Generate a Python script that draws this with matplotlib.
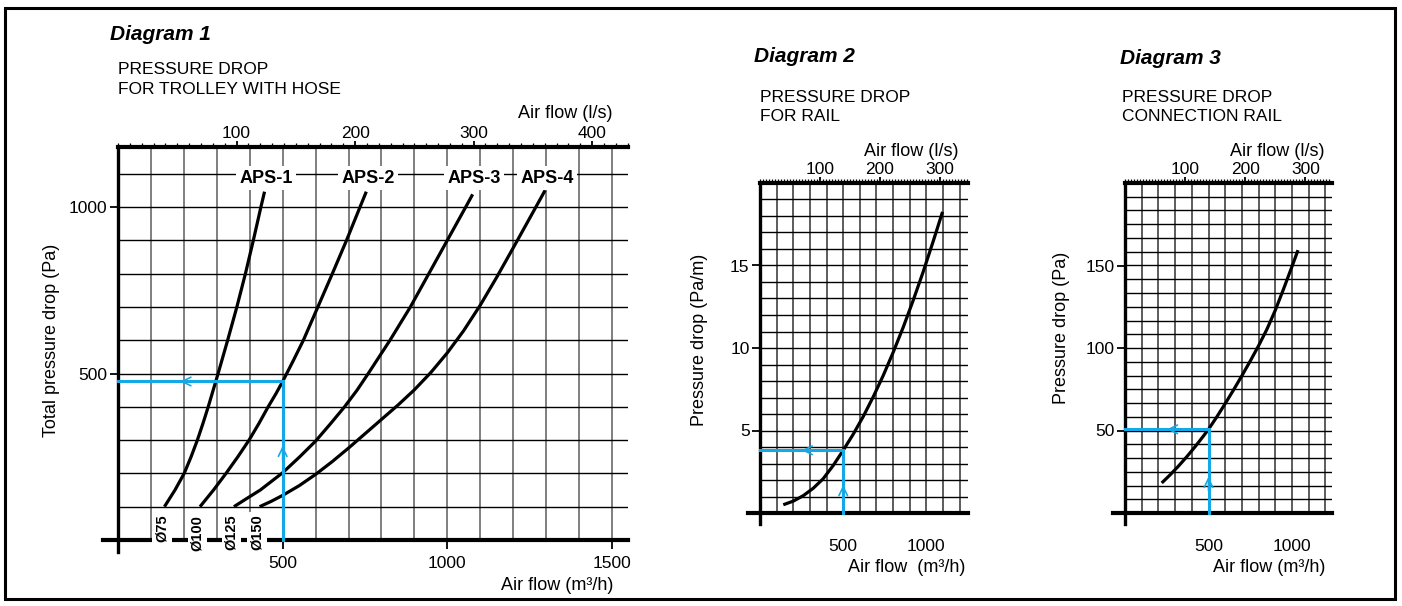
import numpy as np
import matplotlib
matplotlib.use("Agg")
import matplotlib.pyplot as plt
from matplotlib.ticker import FixedLocator
from matplotlib.patches import Rectangle

plt.rcParams['font.family'] = ['Liberation Sans', 'DejaVu Sans']

# ---------------- data ----------------
# Diagram 1: trolley with hose, air flow (m3/h) vs total pressure drop (Pa)
aps1_flow = [141, 173, 201, 222, 241, 258, 274, 289, 304, 333, 361, 387, 411, 434, 445]
aps1_drop = [100, 150, 200, 250, 300, 350, 400, 450, 500, 600, 700, 800, 900, 1000, 1046]
aps2_flow = [249, 290, 328, 364, 398, 428, 456, 480, 500, 533, 563, 607, 651, 694, 735, 754]
aps2_drop = [100, 150, 200, 250, 300, 350, 400, 440, 476, 540, 600, 700, 800, 900, 1000, 1046]
aps3_flow = [352, 390, 432, 500, 552, 600, 646, 688, 726, 760, 826, 888, 944, 1000, 1056, 1077]
aps3_drop = [100, 124, 150, 202, 250, 297, 350, 400, 450, 500, 600, 700, 800, 900, 1000, 1038]
aps4_flow = [430, 465, 500, 550, 600, 650, 700, 750, 800, 850, 900, 950, 1000, 1050, 1100,
             1150, 1200, 1250, 1297]
aps4_drop = [100, 116, 134, 163, 197, 235, 276, 319, 362, 405, 451, 503, 562, 629, 705,
             789, 877, 966, 1050]
series_names = ['APS-1', 'APS-2', 'APS-3', 'APS-4']
hose_names = ['Ø75', 'Ø100', 'Ø125', 'Ø150']

# Diagram 2: rail, air flow (m3/h) vs pressure drop (Pa/m)
rail_flow = [140, 200, 260, 320, 380, 440, 500, 560, 620, 680, 740, 800, 860, 920, 980,
             1040, 1097]
rail_drop = [0.5, 0.72, 1.05, 1.5, 2.08, 2.88, 3.8, 4.77, 5.84, 7.03, 8.32, 9.73, 11.24,
             12.87, 14.6, 16.44, 18.25]

# Diagram 3: connection rail, air flow (m3/h) vs pressure drop (Pa)
conn_flow = [220, 270, 320, 370, 420, 470, 500, 550, 600, 650, 700, 750, 800, 850, 900,
             950, 1000, 1036]
conn_drop = [18.2, 23.1, 28.4, 34.1, 40.2, 46.7, 50.7, 58.3, 66.3, 74.6, 83.2, 92.1, 101.4,
             111.4, 122.9, 135.9, 149.4, 159.3]

# worked examples (cyan reading lines)
read_flow = [500, 500, 500]
read_drop = [476, 3.8, 50.7]

# tick values
d1_xticks = [500, 1000, 1500]
d1_yticks = [500, 1000]
d1_lps_ticks = [100, 200, 300, 400]
d2_xticks = [500, 1000]
d2_yticks = [5, 10, 15]
d3_xticks = [500, 1000]
d3_yticks = [50, 100, 150]
d23_lps_ticks = [100, 200, 300]

# ---------------- figure ----------------
W, H = 1402, 606
fig = plt.figure(figsize=(W / 100, H / 100), dpi=100)
fig.patch.set_facecolor('white')

CYAN = '#14a9e6'
VGRID = '#5c5c5c'


def px_axes(xlim, ylim, x0px, sx, y0px, sy):
    """Axes placed so that data x=0 sits at pixel x0px and y=0 at pixel y0px."""
    left = x0px + xlim[0] * sx
    right = x0px + xlim[1] * sx
    bottom = y0px - ylim[0] * sy
    top = y0px - ylim[1] * sy
    ax = fig.add_axes([left / W, 1 - bottom / H, (right - left) / W, (bottom - top) / H])
    ax.set_xlim(*xlim)
    ax.set_ylim(*ylim)
    ax.set_facecolor('none')
    return ax


def style_axes(ax, xmax, ymax, vstep, hstep, xticks, yticks, lps_major, lps_minor_step,
               xtick_len, xtick_pad, top_pad, vlw):
    ax.vlines(np.arange(vstep, xmax + 1e-6, vstep), 0, ymax, colors=VGRID, lw=vlw, zorder=1)
    ax.hlines(np.arange(hstep, ymax - 1e-6, hstep), 0, xmax, colors='black', lw=1.0, zorder=1)
    ax.spines['right'].set_visible(False)
    ax.spines['left'].set_position(('data', 0))
    ax.spines['bottom'].set_position(('data', 0))
    ax.spines['left'].set_linewidth(2.4)
    ax.spines['bottom'].set_linewidth(3.0)
    ax.spines['top'].set_linewidth(3.0)
    ax.spines['top'].set_bounds(0, ax.get_xlim()[1])
    for s in ('left', 'bottom', 'top'):
        ax.spines[s].set_zorder(3)
    ax.set_xticks(xticks)
    ax.set_yticks(yticks)
    ax.tick_params(axis='x', direction='out', length=xtick_len, width=1.3, pad=xtick_pad,
                   labelsize=12.5, top=False)
    ax.tick_params(axis='y', direction='out', length=5.5, width=1.3, pad=2, labelsize=12.5)
    sec = ax.secondary_xaxis('top', functions=(lambda q: q / 3.6, lambda l: l * 3.6))
    sec.set_xticks(lps_major)
    sec.xaxis.set_minor_locator(FixedLocator(np.arange(0, ax.get_xlim()[1] / 3.6, lps_minor_step)))
    sec.tick_params(which='major', direction='out', length=4.0, width=1.3, pad=top_pad,
                    labelsize=12.5)
    sec.tick_params(which='minor', direction='out', length=3.0, width=0.9)
    sec.spines['top'].set_visible(False)
    return sec


def reading(ax, q, p, harrow_x, varrow_y, xscale, yscale):
    ax.plot([q, q, 0], [0, p, p], color=CYAN, lw=2.2, zorder=4, solid_joinstyle='miter')
    style = dict(arrowstyle='->,head_length=0.45,head_width=0.22', color=CYAN, lw=1.2,
                 mutation_scale=14, shrinkA=0, shrinkB=0)
    ax.annotate('', xy=(harrow_x, p), xytext=(harrow_x + 14 * xscale, p),
                arrowprops=style, zorder=4)
    ax.annotate('', xy=(q, varrow_y), xytext=(q, varrow_y - 14 * yscale),
                arrowprops=style, zorder=4)


def curve(ax, fl, dr):
    ax.plot(fl, dr, color='black', lw=2.3, zorder=4, solid_capstyle='butt',
            solid_joinstyle='round')


# ---------------- Diagram 1 ----------------
d1_xmax, d1_ymax = 1549, 1180
ax1 = px_axes((-45, d1_xmax), (-36, d1_ymax), 118, 0.3293, 540, 0.333)
style_axes(ax1, d1_xmax, d1_ymax, 100, 100, d1_xticks, d1_yticks, d1_lps_ticks, 10,
           xtick_len=6.5, xtick_pad=5, top_pad=0.5, vlw=1.1)
curves1 = [(aps1_flow, aps1_drop), (aps2_flow, aps2_drop),
           (aps3_flow, aps3_drop), (aps4_flow, aps4_drop)]
for fl, dr in curves1:
    curve(ax1, fl, dr)
for name, (fl, dr) in zip(series_names, curves1):
    ax1.text(fl[-1] + 5, 1086, name, ha='center', va='center', fontsize=13, fontweight='bold',
             zorder=5, bbox=dict(facecolor='white', edgecolor='none', pad=2.5))
for name, (fl, dr) in zip(hose_names, curves1):
    ax1.text(fl[0] - 8, 76, name, rotation=90, ha='center', va='top', fontsize=10.5,
             fontweight='bold', zorder=5,
             bbox=dict(facecolor='white', edgecolor='none', pad=2.0))
reading(ax1, read_flow[0], read_drop[0], 189, 283, 1 / 0.3293, 1 / 0.333)

fig.text(110 / W, 1 - 34 / H, 'Diagram 1', fontsize=15, fontweight='bold', fontstyle='italic',
         ha='left', va='center')
fig.text(118 / W, 1 - 70 / H, 'PRESSURE DROP', fontsize=12.5, ha='left', va='center')
fig.text(118 / W, 1 - 90 / H, 'FOR TROLLEY WITH HOSE', fontsize=12.5, ha='left', va='center')
fig.text(613 / W, 1 - 113 / H, 'Air flow (l/s)', fontsize=13, ha='right', va='center')
fig.text(613 / W, 1 - 585 / H, 'Air flow (m³/h)', fontsize=13, ha='right', va='center')
fig.text(52 / W, 1 - 340 / H, 'Total pressure drop (Pa)', fontsize=13, rotation=90,
         ha='center', va='center')

# ---------------- Diagram 2 ----------------
d2_xmax, d2_ymax = 1250, 20
ax2 = px_axes((-70, d2_xmax), (-0.65, d2_ymax), 760, 0.1664, 513, 16.5)
style_axes(ax2, d2_xmax, d2_ymax, 100, 1, d2_xticks, d2_yticks, d23_lps_ticks, 5,
           xtick_len=0, xtick_pad=19, top_pad=0.5, vlw=1.4)
curve(ax2, rail_flow, rail_drop)
reading(ax2, read_flow[1], read_drop[1], 250, 1.7, 1 / 0.1664, 1 / 16.5)

fig.text(754 / W, 1 - 57 / H, 'Diagram 2', fontsize=15, fontweight='bold', fontstyle='italic',
         ha='left', va='center')
fig.text(760 / W, 1 - 98 / H, 'PRESSURE DROP', fontsize=12.5, ha='left', va='center')
fig.text(760 / W, 1 - 117 / H, 'FOR RAIL', fontsize=12.5, ha='left', va='center')
fig.text(958 / W, 1 - 151 / H, 'Air flow (l/s)', fontsize=13, ha='right', va='center')
fig.text(965 / W, 1 - 568 / H, 'Air flow  (m³/h)', fontsize=13, ha='right', va='center')
fig.text(700 / W, 1 - 340 / H, 'Pressure drop (Pa/m)', fontsize=13, rotation=90,
         ha='center', va='center')

# ---------------- Diagram 3 ----------------
d3_xmax, d3_ymax = 1240, 200
ax3 = px_axes((-70, d3_xmax), (-6.5, d3_ymax), 1125, 0.167, 513, 1.65)
style_axes(ax3, d3_xmax, d3_ymax, 100, 50 / 6, d3_xticks, d3_yticks, d23_lps_ticks, 5,
           xtick_len=0, xtick_pad=19, top_pad=0.5, vlw=1.4)
curve(ax3, conn_flow, conn_drop)
reading(ax3, read_flow[2], read_drop[2], 250, 22, 1 / 0.167, 1 / 1.65)

fig.text(1120 / W, 1 - 58 / H, 'Diagram 3', fontsize=15, fontweight='bold', fontstyle='italic',
         ha='left', va='center')
fig.text(1122 / W, 1 - 98 / H, 'PRESSURE DROP', fontsize=12.5, ha='left', va='center')
fig.text(1122 / W, 1 - 117 / H, 'CONNECTION RAIL', fontsize=12.5, ha='left', va='center')
fig.text(1324 / W, 1 - 151 / H, 'Air flow (l/s)', fontsize=13, ha='right', va='center')
fig.text(1325 / W, 1 - 568 / H, 'Air flow (m³/h)', fontsize=13, ha='right', va='center')
fig.text(1062 / W, 1 - 328 / H, 'Pressure drop (Pa)', fontsize=13, rotation=90,
         ha='center', va='center')

# outer frame
fig.patches.append(Rectangle((5 / W, 1 - 599 / H), 1390 / W, 591 / H, transform=fig.transFigure,
                             fill=False, edgecolor='black', lw=2.2))

fig.savefig('out.png', dpi=100, facecolor='white')
